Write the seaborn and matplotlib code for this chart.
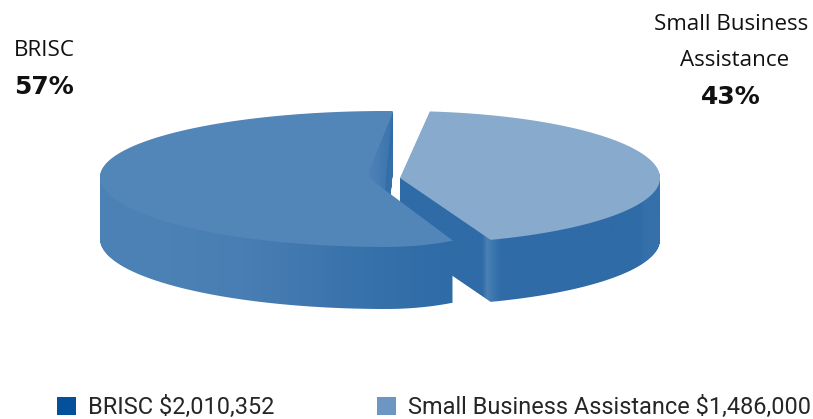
import numpy as np
import seaborn as sns
import matplotlib
matplotlib.use("Agg")
import matplotlib.pyplot as plt
from matplotlib.path import Path
from matplotlib.patches import Patch, PathPatch, Polygon
from matplotlib.transforms import Affine2D

categories = ["BRISC", "Small Business Assistance"]
amounts = [2010352, 1486000]
percent_labels = ["57%", "43%"]
legend_labels = ["BRISC $2,010,352", "Small Business Assistance $1,486,000"]

top_colors = ["#5285b8", "#88aacd"]
legend_colors = ["#05509a", "#6d97c2"]
W, H = 813, 419
DEPTH = 62

sns.set_theme(style="white")
plt.rcParams["font.family"] = ["Open Sans", "DejaVu Sans"]

fig = plt.figure(figsize=(W / 100, H / 100), dpi=100)
ax = fig.add_axes([0, 0, 1, 1])


def slice_polygon(index, startangle, cx, cy, left, right, up, down, apex):
    # take the angles from a unit pie, then squash it into the tilted view
    wedges, _ = ax.pie(amounts, startangle=startangle, counterclock=True)
    path = wedges[index].get_path()
    poly = path.to_polygons(Affine2D().scale(1000))[0] / 1000.0
    for w in wedges:
        w.remove()
    at_center = np.hypot(poly[:, 0], poly[:, 1]) < 1e-6
    x = cx + poly[:, 0] * np.where(poly[:, 0] < 0, left, right)
    y = cy - poly[:, 1] * np.where(poly[:, 1] > 0, up, down)
    out = np.column_stack([x, y])
    out[at_center] = apex
    return out


def draw_slice(poly, color, stops, z):
    layers = [Path(poly + [0, d]) for d in range(1, DEPTH + 1)]
    side = PathPatch(Path.make_compound_path(*layers), transform=ax.transData)
    cmap = sns.blend_palette(stops, n_colors=256, as_cmap=True)
    im = ax.imshow(np.linspace(0, 1, 256)[None, :], cmap=cmap, aspect="auto",
                   extent=[poly[:, 0].min(), poly[:, 0].max(), H, 0], zorder=z)
    im.set_clip_path(side)
    ax.add_patch(Polygon(poly, closed=True, facecolor=color, edgecolor="none", zorder=z + 1))


# right slice goes first, the left one sits over its inner wall
right_poly = slice_polygon(1, 83.4, 400, 178, 260, 260, 67, 66, (400, 178))
draw_slice(right_poly, top_colors[1],
           ["#2f6ba7"] * 17 + ["#4c80b6", "#3f77af", "#3570ab"] + ["#2f6ba7"] * 28 + ["#3570ab"] * 4, 1)

left_poly = slice_polygon(0, 87.6, 386, 177, 286, 161, 66, 70, (385, 190))
draw_slice(left_poly, top_colors[0],
           ["#4d82b6", "#4c81b5", "#487eb3", "#3f77ae", "#3570aa", "#2f6ba7"], 3)

# darker inner wall showing in the notch of the left slice
notch = Polygon([(393, 112), (393, 140), (385, 190), (367, 176)], closed=True,
                transform=ax.transData, facecolor="none", edgecolor="none")
ax.add_patch(notch)
shade = np.zeros((1, 64, 4))
shade[..., :3] = matplotlib.colors.to_rgb("#2f6ba7")
shade[..., 3] = np.linspace(0, 0.75, 64)
im = ax.imshow(shade, aspect="auto", extent=[367, 393, H, 0], zorder=5)
im.set_clip_path(notch)

# labels
ax.text(44, 51, categories[0], ha="center", va="center", fontsize=16.1, color="#111111")
ax.text(44, 87, percent_labels[0], ha="center", va="center", fontsize=18,
        fontweight="bold", family="DejaVu Sans", color="#111111")
ax.text(731, 24, "Small Business", ha="center", va="center", fontsize=16.1, color="#111111")
ax.text(735, 61, "Assistance", ha="center", va="center", fontsize=16.1, color="#111111")
ax.text(731, 97, percent_labels[1], ha="center", va="center", fontsize=18,
        fontweight="bold", family="DejaVu Sans", color="#111111")

handles = [Patch(facecolor=c, edgecolor="none", label=l) for c, l in zip(legend_colors, legend_labels)]
ax.legend(handles=handles, ncol=2, frameon=False, loc="lower left",
          bbox_to_anchor=(57 / W, 0.0), borderpad=0, borderaxespad=0,
          prop={"family": ["Roboto"], "size": 16.9},
          handlelength=0.8, handleheight=0.8, handletextpad=0.5, columnspacing=4.4)

ax.set_aspect("auto")
ax.set_xlim(0, W)
ax.set_ylim(H, 0)
ax.axis("off")

fig.savefig("out.png", dpi=100, facecolor="white")
